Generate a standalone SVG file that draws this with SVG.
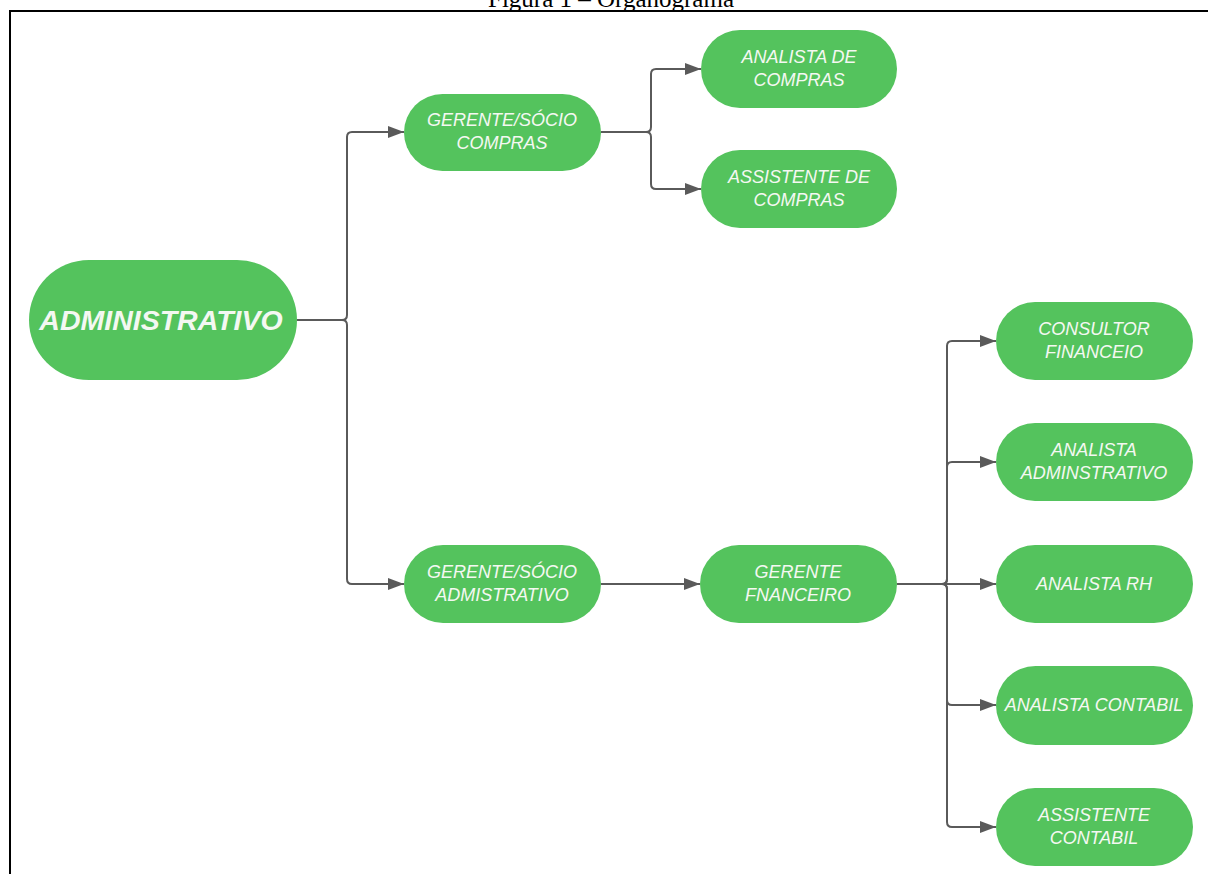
<svg xmlns="http://www.w3.org/2000/svg" width="1208" height="874" viewBox="0 0 1208 874">
<style>
.node{fill:#54c35d}
.t{font-family:"Liberation Sans",Arial,sans-serif;font-style:italic;font-size:18px;fill:#f4f8f2;text-anchor:middle}
.big{font-family:"Liberation Sans",Arial,sans-serif;font-style:italic;font-weight:bold;font-size:28.5px;fill:#f4f8f2;text-anchor:middle}
.c{fill:none;stroke:#5a5a5a;stroke-width:2}
.title{font-family:"Liberation Serif","Times New Roman",serif;font-size:25px;fill:#000;text-anchor:middle}
</style>
<defs>
<marker id="ah" viewBox="0 0 16 12" refX="16" refY="6" markerWidth="16" markerHeight="12" markerUnits="userSpaceOnUse" orient="auto">
<path d="M0,0 L16,6 L0,12 Z" fill="#5a5a5a"/>
</marker>
</defs>
<rect width="1208" height="874" fill="#fff"/>
<text class="title" x="611" y="7">Figura 1 – Organograma</text>
<path d="M10,874 V11 H1208" fill="none" stroke="#000" stroke-width="2"/>

<g id="connectors">
<path class="c" marker-end="url(#ah)" d="M297,320 H342 Q347,320 347,315 V137 Q347,132 352,132 H404"/>
<path class="c" marker-end="url(#ah)" d="M297,320 H342 Q347,320 347,325 V579 Q347,584 352,584 H404"/>
<path class="c" marker-end="url(#ah)" d="M601,132 H646 Q651,132 651,127 V74 Q651,69 656,69 H701"/>
<path class="c" marker-end="url(#ah)" d="M601,132 H646 Q651,132 651,137 V184 Q651,189 656,189 H701"/>
<path class="c" marker-end="url(#ah)" d="M601,584 H700"/>
<path class="c" marker-end="url(#ah)" d="M897,584 H942 Q947,584 947,579 V346 Q947,341 952,341 H996"/>
<path class="c" marker-end="url(#ah)" d="M897,584 H942 Q947,584 947,579 V467 Q947,462 952,462 H996"/>
<path class="c" marker-end="url(#ah)" d="M897,584 H996"/>
<path class="c" marker-end="url(#ah)" d="M897,584 H942 Q947,584 947,589 V700 Q947,705 952,705 H996"/>
<path class="c" marker-end="url(#ah)" d="M897,584 H942 Q947,584 947,589 V822 Q947,827 952,827 H996"/>
</g>

<g id="n-admin">
<rect class="node" x="29" y="260" width="268" height="120" rx="60"/>
<text class="big" x="161" y="330">ADMINISTRATIVO</text>
</g>
<g id="n-gerente-compras">
<rect class="node" x="404" y="94" width="197" height="77" rx="38.5"/>
<text class="t" x="502" y="126">GERENTE/SÓCIO</text>
<text class="t" x="502" y="149">COMPRAS</text>
</g>
<g id="n-analista-compras">
<rect class="node" x="701" y="30" width="196" height="78" rx="39"/>
<text class="t" x="799" y="63">ANALISTA DE</text>
<text class="t" x="799" y="86">COMPRAS</text>
</g>
<g id="n-assistente-compras">
<rect class="node" x="701" y="150" width="196" height="78" rx="39"/>
<text class="t" x="799" y="183">ASSISTENTE DE</text>
<text class="t" x="799" y="206">COMPRAS</text>
</g>
<g id="n-gerente-adm">
<rect class="node" x="404" y="545" width="197" height="78" rx="39"/>
<text class="t" x="502" y="578">GERENTE/SÓCIO</text>
<text class="t" x="502" y="601">ADMISTRATIVO</text>
</g>
<g id="n-gerente-fin">
<rect class="node" x="700" y="545" width="197" height="78" rx="39"/>
<text class="t" x="798" y="578">GERENTE</text>
<text class="t" x="798" y="601">FNANCEIRO</text>
</g>
<g id="n-consultor">
<rect class="node" x="996" y="302" width="197" height="78" rx="39"/>
<text class="t" x="1094" y="335">CONSULTOR</text>
<text class="t" x="1094" y="358">FINANCEIO</text>
</g>
<g id="n-analista-adm">
<rect class="node" x="996" y="423" width="197" height="78" rx="39"/>
<text class="t" x="1094" y="456">ANALISTA</text>
<text class="t" x="1094" y="479">ADMINSTRATIVO</text>
</g>
<g id="n-analista-rh">
<rect class="node" x="996" y="545" width="197" height="78" rx="39"/>
<text class="t" x="1094" y="590">ANALISTA RH</text>
</g>
<g id="n-analista-contabil">
<rect class="node" x="996" y="666" width="197" height="79" rx="39.5"/>
<text class="t" x="1094" y="711">ANALISTA CONTABIL</text>
</g>
<g id="n-assistente-contabil">
<rect class="node" x="996" y="788" width="197" height="78" rx="39"/>
<text class="t" x="1094" y="821">ASSISTENTE</text>
<text class="t" x="1094" y="844">CONTABIL</text>
</g>
</svg>
